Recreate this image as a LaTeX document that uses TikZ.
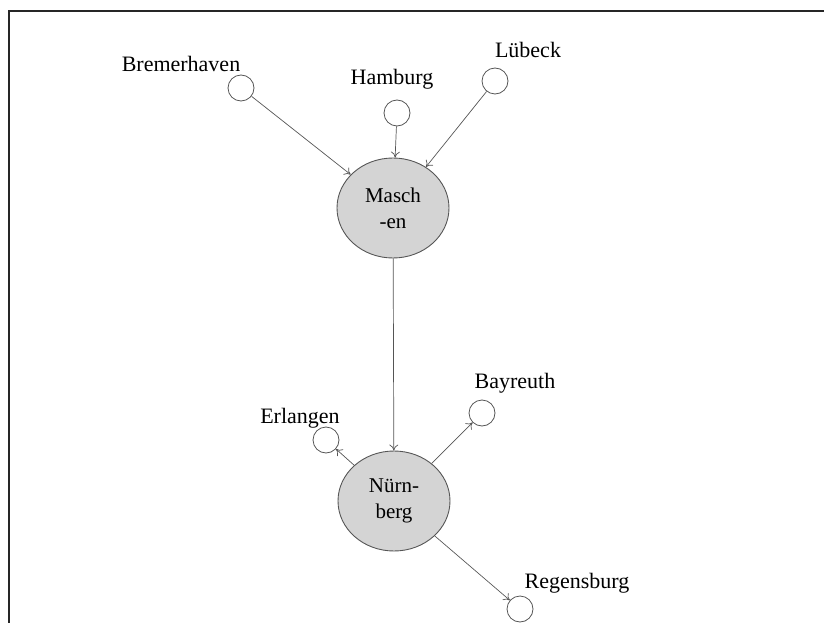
\documentclass[tikz,border=0pt]{standalone}
\usepackage{fontspec}
\setmainfont{Liberation Serif}
\usetikzlibrary{shapes.geometric,arrows.meta}
\definecolor{hubfill}{HTML}{D4D4D4}
\definecolor{inkgray}{HTML}{555555}
\tikzset{
  hub/.style={ellipse, draw=inkgray, line width=0.9pt, fill=hubfill,
    minimum width=112pt, minimum height=100pt, inner sep=0pt,
    align=center, font=\fontsize{21}{26}\selectfont},
  town/.style={circle, draw=inkgray, line width=0.8pt, minimum size=26pt, inner sep=0pt},
  townlabel/.style={font=\fontsize{22}{26}\selectfont, inner sep=0pt, anchor=base},
  link/.style={draw=inkgray, line width=0.7pt, -{To[length=6pt,width=9pt]}},
}
\begin{document}
\begin{tikzpicture}[x=1pt,y=-1pt]
\useasboundingbox (0,0) rectangle (824,623);
% frame edges
\draw[line width=2pt, draw=black!85] (9,623) -- (9,11) -- (824,11);

% central hubs
\node[hub] (masch) at (393,208) {Masch\\-en};
\node[hub] (nuern) at (394,501) {Nürn-\\berg};

% towns in the north
\node[town] (brem) at (241,88) {};
\node[town] (hamb) at (397,113) {};
\node[town] (luebeck) at (495,81) {};
\node[townlabel] (bremL) at (181,72) {Bremerhaven};
\node[townlabel] (hambL) at (392,85) {Hamburg};
\node[townlabel] (luebL) at (528,58) {Lübeck};

% towns in the south
\node[town] (erl) at (326,440) {};
\node[town] (bay) at (482,413) {};
\node[town] (reg) at (520,609) {};
\node[townlabel] (erlL) at (300,423) {Erlangen};
\node[townlabel] (bayL) at (515,388) {Bayreuth};
\node[townlabel] (regL) at (577,588) {Regensburg};

% connectors
\draw[link] (brem) -- (masch);
\draw[link] (hamb) -- (masch);
\draw[link] (luebeck) -- (masch);
\draw[link] (masch) -- (nuern);
\draw[link] (nuern) -- (erl);
\draw[link] (nuern) -- (bay);
\draw[link] (nuern) -- (reg);
\end{tikzpicture}
\end{document}
